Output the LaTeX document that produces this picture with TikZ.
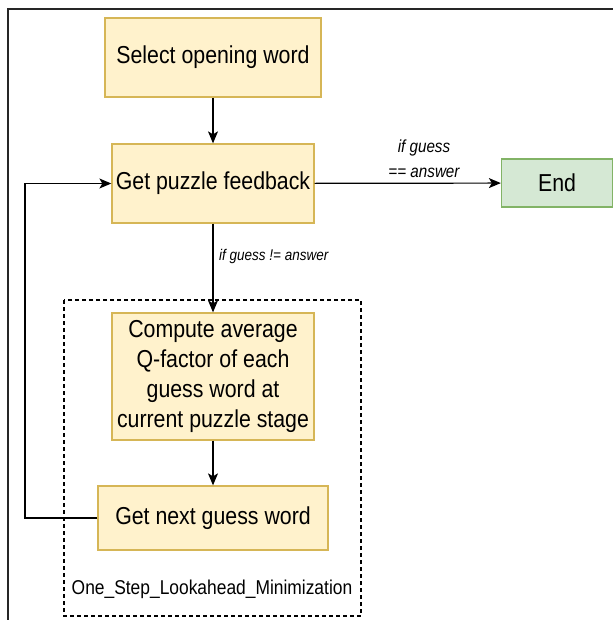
\documentclass[tikz,border=0pt]{standalone}
\usepackage{fontspec}
\setmainfont{Liberation Sans}[FakeStretch=0.87]
\usepackage{tikz}
\usetikzlibrary{arrows.meta}
\definecolor{stepfill}{HTML}{FFF2CC}
\definecolor{stepline}{HTML}{D6B656}
\definecolor{donefill}{HTML}{D5E8D4}
\definecolor{doneline}{HTML}{82B366}

\begin{document}
\begin{tikzpicture}[x=1pt, y=-1pt,
        stepbox/.style={draw=stepline, fill=stepfill, line width=1.3pt, align=center, inner sep=0pt, font=\fontsize{24.5}{30}\selectfont},
        donebox/.style={draw=doneline, fill=donefill, line width=1.3pt, inner sep=0pt, font=\fontsize{24.5}{30}\selectfont},
        flow/.style={line width=1.2pt, -{Stealth[length=12pt, width=10pt, inset=3pt]}},
        cond/.style={font=\itshape\fontsize{17.5}{25}\selectfont, align=center, inner sep=0pt}]
        \useasboundingbox (0,0) rectangle (613,620);
        \draw[black!85, line width=1.1pt] (8,620) -- (8,9) -- (613,9);

        \draw[dash pattern=on 4pt off 3pt, line width=1.2pt] (64,300) rectangle (361,616);
        \node[font=\fontsize{20}{22}\selectfont] (groupname) at (212,589) {One\_Step\_Lookahead\_Minimization};

        \node[stepbox, minimum width=216, minimum height=79] (select) at (213,57.5) {Select opening word};  
        \node[stepbox, minimum width=202, minimum height=79] (feedback) at (213,183.5) {Get puzzle feedback};  
        \node[donebox, minimum width=111, minimum height=48] (finish) at (557,183) {End};  
        \node[stepbox, minimum width=202, minimum height=127] (compute) at (213,376.5) {Compute average\\Q-factor of each\\guess word at\\current puzzle stage};  
        \node[stepbox, minimum width=230, minimum height=64] (nextguess) at (213,518) {Get next guess word};  

        \node[cond] (hit) at (424,159) {if guess\\== answer};
        \node[cond, font=\itshape\fontsize{15.5}{18}\selectfont, anchor=west] (miss) at (219,256) {if guess != answer};
        \coordinate (loop) at (25,518);

        \draw[flow] (select) -- (feedback);
        \draw[flow] (feedback) -- (finish);
        \draw[flow] (feedback) -- (compute);
        \draw[flow] (compute) -- (nextguess);
        \draw[flow] (nextguess.west) -- (loop) |- (feedback.west);
    \end{tikzpicture}
\end{document}
